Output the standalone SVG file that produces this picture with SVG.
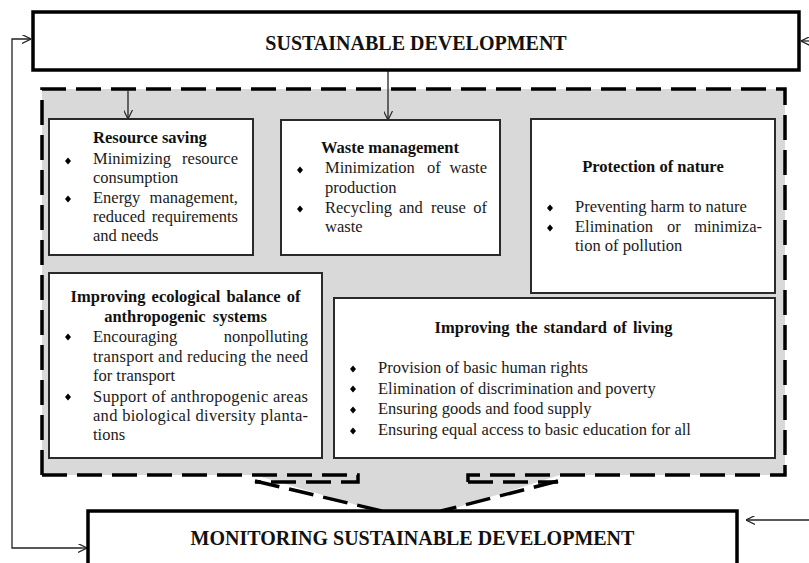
<svg xmlns="http://www.w3.org/2000/svg" xmlns:xlink="http://www.w3.org/1999/xlink" width="809" height="563" viewBox="0 0 809 563">
<style>
.main{fill:#fff;stroke:#000;stroke-width:3.5}
.box{fill:#fff;stroke:#2a2a2a;stroke-width:2}
.dash{fill:none;stroke:#000;stroke-width:3.5;stroke-dasharray:25 10}
.conn{fill:none;stroke:#222;stroke-width:1.3}
.big{font-family:"Liberation Serif","Times New Roman",serif;font-weight:bold;font-size:20px;fill:#111;text-anchor:middle}
.t{font-family:"Liberation Serif","Times New Roman",serif;font-size:16.5px;fill:#1a1a1a}
.h{font-family:"Liberation Serif","Times New Roman",serif;font-size:16.5px;font-weight:bold;fill:#111}
.c{text-anchor:middle}
.e{text-anchor:end}
</style>
<defs>
<marker id="arr" viewBox="0 0 10 10" refX="10" refY="5" markerWidth="9" markerHeight="9" markerUnits="userSpaceOnUse" orient="auto">
<path d="M0,0 L10,5 L0,10" fill="none" stroke="#222" stroke-width="1.3"/>
</marker>
<path id="b" d="M0,-3.5 L3,0 L0,3.5 L-3,0 Z" fill="#000"/>
</defs>

<g id="region">
<path d="M42,89 H785 V475 H560 L443,512 H380 L255,475 H42 Z" fill="#d9d9d9"/>
<path class="dash" d="M42,475 V89 H785 V475 H468 V482"/>
<path class="dash" d="M42,475 H358 V482 H255"/>
<path class="dash" d="M468,482 H558"/>
<path class="dash" d="M255,481 L382,511"/>
<path class="dash" d="M558,481 L441,511"/>
</g>

<g id="connectors">
<line class="conn" x1="388" y1="71" x2="388" y2="120" marker-end="url(#arr)"/>
<line class="conn" x1="128" y1="91" x2="128" y2="119" marker-end="url(#arr)"/>
<polyline class="conn" points="82,548 12,548 12,39 31,39" marker-end="url(#arr)"/>
<line class="conn" x1="82" y1="548" x2="87" y2="548" marker-end="url(#arr)"/>
<line class="conn" x1="809" y1="41" x2="801" y2="41" marker-end="url(#arr)"/>
<line class="conn" x1="809" y1="520" x2="746" y2="520" marker-end="url(#arr)"/>
</g>

<g id="sustainable-development">
<rect class="main" x="33" y="12" width="766" height="58"/>
<text class="big" x="416" y="50">SUSTAINABLE DEVELOPMENT</text>
</g>

<g id="resource-saving">
<rect class="box" x="49" y="119" width="204" height="136"/>
<text class="h" x="93" y="143">Resource saving</text>
<use xlink:href="#b" x="68" y="161"/>
<text class="t" x="93" y="164">Minimizing</text>
<text class="t e" x="238" y="164">resource</text>
<text class="t" x="93" y="183">consumption</text>
<use xlink:href="#b" x="68" y="199"/>
<text class="t" x="93" y="203">Energy</text>
<text class="t e" x="238" y="203">management,</text>
<text class="t" x="93" y="222">reduced</text>
<text class="t e" x="238" y="222">requirements</text>
<text class="t" x="93" y="241">and needs</text>
</g>

<g id="waste-management">
<rect class="box" x="281" y="120" width="219" height="135"/>
<text class="h" x="321" y="153">Waste management</text>
<use xlink:href="#b" x="300" y="170"/>
<text class="t" y="173"><tspan x="325">Minimization</tspan><tspan x="427">of</tspan></text>
<text class="t e" x="487" y="173">waste</text>
<text class="t" x="325" y="193">production</text>
<use xlink:href="#b" x="300" y="209"/>
<text class="t" y="213"><tspan x="325">Recycling</tspan><tspan x="399">and</tspan><tspan x="431">reuse</tspan></text>
<text class="t e" x="487" y="213">of</text>
<text class="t" x="325" y="232">waste</text>
</g>

<g id="protection-of-nature">
<rect class="box" x="531" y="119" width="244" height="174"/>
<text class="h c" x="653" y="172">Protection of nature</text>
<use xlink:href="#b" x="550" y="208"/>
<text class="t" x="575" y="212">Preventing harm to nature</text>
<use xlink:href="#b" x="550" y="228"/>
<text class="t" y="232"><tspan x="575">Elimination</tspan><tspan x="667">or</tspan></text>
<text class="t e" x="762" y="232">minimiza-</text>
<text class="t" x="575" y="251">tion of pollution</text>
</g>

<g id="ecological-balance">
<rect class="box" x="49" y="273" width="273" height="185"/>
<text class="h c" x="185.5" y="302" word-spacing="2">Improving ecological balance of</text>
<text class="h c" x="185.5" y="322" word-spacing="3">anthropogenic systems</text>
<use xlink:href="#b" x="68" y="337"/>
<text class="t" x="93" y="342">Encouraging</text>
<text class="t e" x="308" y="342">nonpolluting</text>
<text class="t" x="93" y="362" textLength="215" lengthAdjust="spacing">transport and reducing the need</text>
<text class="t" x="93" y="381">for transport</text>
<use xlink:href="#b" x="68" y="397"/>
<text class="t" x="93" y="402" textLength="215" lengthAdjust="spacing">Support of anthropogenic areas</text>
<text class="t" x="93" y="421" textLength="215" lengthAdjust="spacing">and biological diversity planta-</text>
<text class="t" x="93" y="440">tions</text>
</g>

<g id="standard-of-living">
<rect class="box" x="334" y="298" width="441" height="160"/>
<text class="h c" x="553.5" y="333" word-spacing="2">Improving the standard of living</text>
<use xlink:href="#b" x="353" y="369"/>
<text class="t" x="378" y="373">Provision of basic human rights</text>
<use xlink:href="#b" x="353" y="389"/>
<text class="t" x="378" y="393.5">Elimination of discrimination and poverty</text>
<use xlink:href="#b" x="353" y="410"/>
<text class="t" x="378" y="414">Ensuring goods and food supply</text>
<use xlink:href="#b" x="353" y="431"/>
<text class="t" x="378" y="435">Ensuring equal access to basic education for all</text>
</g>

<g id="monitoring">
<rect class="main" x="88" y="511" width="649" height="70"/>
<text class="big" x="412.5" y="545">MONITORING SUSTAINABLE DEVELOPMENT</text>
</g>
</svg>
